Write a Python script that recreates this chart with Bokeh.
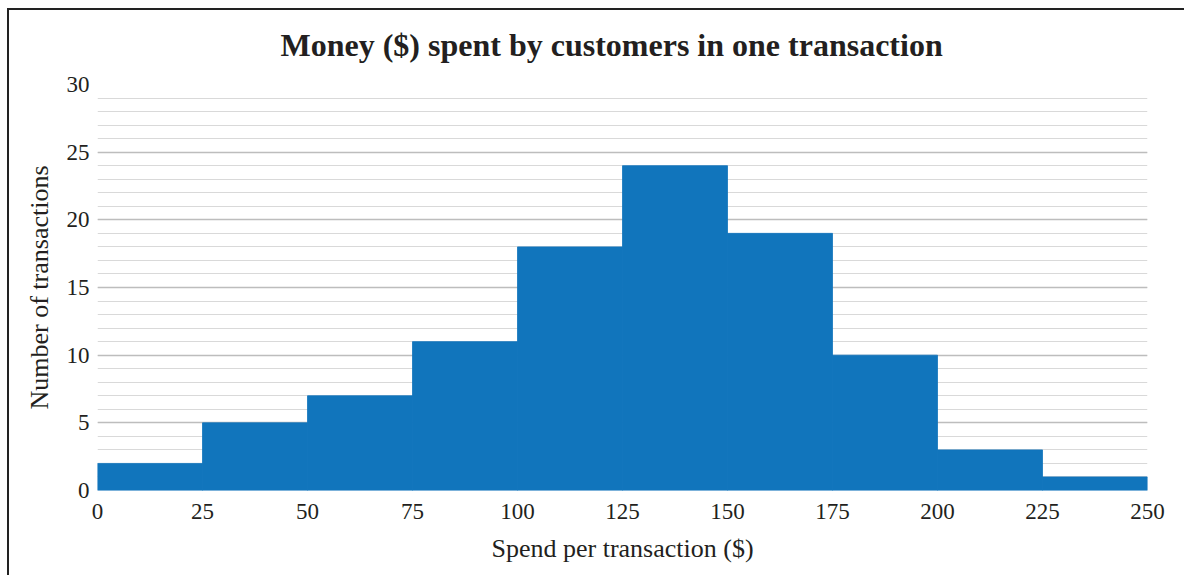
from bokeh.plotting import figure
from bokeh.models import Range1d, FixedTicker
from bokeh.embed import file_html
from bokeh.resources import INLINE

bin_left = [0, 25, 50, 75, 100, 125, 150, 175, 200, 225]
bin_right = [25, 50, 75, 100, 125, 150, 175, 200, 225, 250]
counts = [2, 5, 7, 11, 18, 24, 19, 10, 3, 1]
x_ticks = [0, 25, 50, 75, 100, 125, 150, 175, 200, 225, 250]
y_ticks = [0, 5, 10, 15, 20, 25, 30]
y_minor = list(range(0, 31))

FONT = "Liberation Serif"
TXT = "#231f20"
BAR = "#1175bc"

p = figure(width=1184, height=575, output_backend="svg", toolbar_location=None,
           x_range=Range1d(0, 250), y_range=Range1d(0, 30),
           min_border_left=97, min_border_right=37, min_border_top=84, min_border_bottom=85)
p.border_fill_color = None
p.background_fill_color = "white"
p.styles = {
    "background": "linear-gradient(#222222, #222222) 7px 8px / 100% 2px no-repeat, "
                  "linear-gradient(#222222, #222222) 7px 8px / 2px 100% no-repeat, white"
}
p.outline_line_color = None

p.title.text = "Money ($) spent by customers in one transaction"
p.title.text_font = FONT
p.title.text_font_size = "32px"
p.title.text_font_style = "bold"
p.title.text_color = TXT
p.title.align = "left"
p.title.offset = 183
p.title.standoff = 44

p.quad(left=bin_left, right=bin_right, top=counts, bottom=0,
       fill_color=BAR, line_color=BAR, line_width=0.8)

p.xaxis.ticker = FixedTicker(ticks=x_ticks)
p.yaxis.ticker = FixedTicker(ticks=y_ticks, minor_ticks=y_minor)
p.xgrid.visible = False
p.ygrid.grid_line_color = "#bdbdbd"
p.ygrid.grid_line_width = 1.6
p.ygrid.minor_grid_line_color = "#d9d9d9"
p.ygrid.minor_grid_line_width = 1.2

for ax in (p.xaxis, p.yaxis):
    ax.axis_line_color = None
    ax.major_tick_line_color = None
    ax.minor_tick_line_color = None
    ax.major_label_text_font = FONT
    ax.major_label_text_font_size = "23px"
    ax.major_label_text_color = TXT
    ax.axis_label_text_font = FONT
    ax.axis_label_text_font_size = "26px"
    ax.axis_label_text_font_style = "normal"
    ax.axis_label_text_color = TXT

p.xaxis.axis_label = "Spend per transaction ($)"
p.yaxis.axis_label = "Number of transactions"
p.xaxis.major_label_standoff = 7
p.yaxis.major_label_standoff = 2
p.xaxis.axis_label_standoff = 12
p.yaxis.axis_label_standoff = 10

open("out.html", "w").write(file_html(p, INLINE))
